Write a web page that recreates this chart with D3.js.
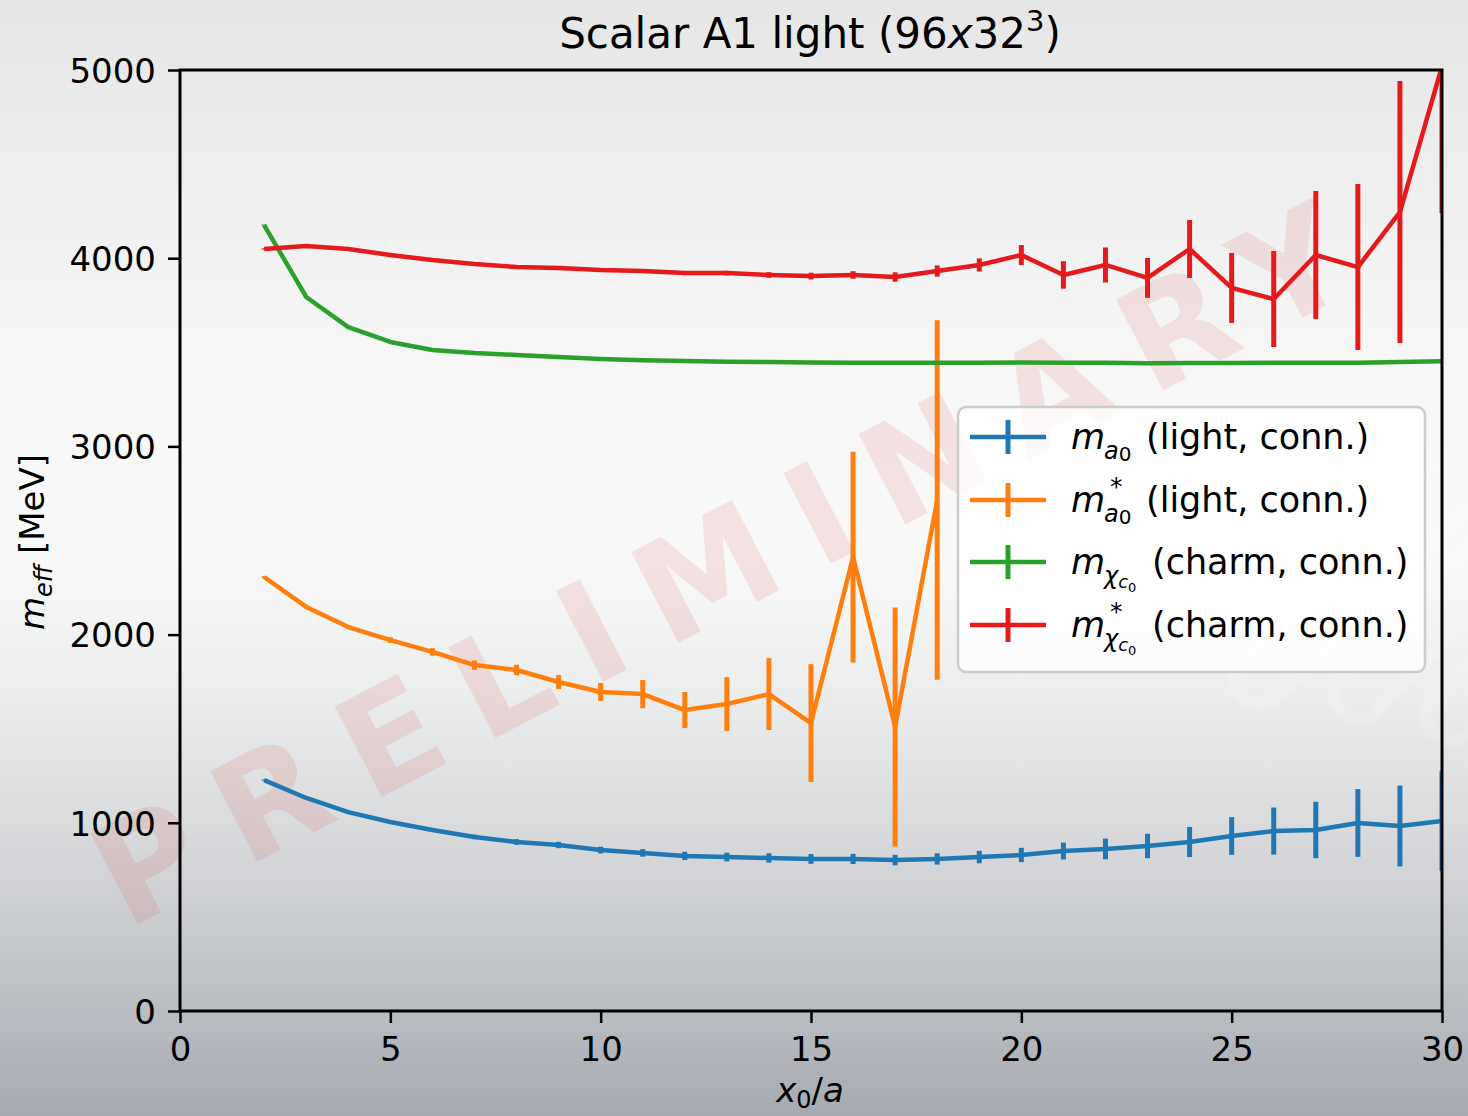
<!DOCTYPE html>
<html>
<head>
<meta charset="utf-8">
<script src="https://cdn.jsdelivr.net/npm/d3@7"></script>
<style>
  body { margin: 0; padding: 0; overflow: hidden; }
  text { font-family: "DejaVu Sans", sans-serif; }
</style>
</head>
<body>
<div id="chart"></div>
<script>
// x0/a time slices
var xSlices = d3.range(2, 31);
var xSlicesShort = d3.range(2, 19);

// m_a0 (light, conn.)
var ma0 = [1227, 1132, 1057, 1004, 962, 925, 898, 882, 855, 840, 824, 818, 813, 808, 808,
           802, 808, 818, 829, 850, 861, 877, 898, 930, 956, 962, 999, 983, 1009];
var ma0Err = [3, 4, 5, 6, 8, 12, 15, 17, 18, 20, 22, 23, 25, 26, 27,
              28, 30, 33, 38, 45, 55, 65, 80, 100, 125, 150, 180, 215, 265];

// m*_a0 (light, conn.)
var ma0Star = [2306, 2147, 2040, 1971, 1908, 1838, 1812, 1748, 1695, 1684, 1599, 1631, 1684,
               1530, 2412, 1509, 2715];
var ma0StarErr = [5, 8, 10, 15, 20, 25, 28, 37, 48, 75, 96, 143, 191, 313, 560, 635, 955];

// m_chi_c0 (charm, conn.)
var mChi = [4176, 3794, 3634, 3555, 3512, 3496, 3486, 3475, 3465, 3458, 3454, 3450, 3448, 3446, 3445,
            3444, 3444, 3445, 3446, 3445, 3444, 3442, 3443, 3443, 3444, 3445, 3445, 3448, 3452];
var mChiErr = [3, 3, 3, 3, 3, 3, 3, 3, 3, 3, 3, 3, 3, 3, 3,
               3, 3, 3, 3, 3, 3, 3, 3, 3, 3, 3, 3, 3, 3];

// m*_chi_c0 (charm, conn.)
var mChiStar = [4049, 4065, 4049, 4017, 3990, 3969, 3953, 3948, 3937, 3932, 3921, 3921, 3911, 3905, 3911,
                3900, 3932, 3964, 4017, 3911, 3964, 3895, 4049, 3842, 3783, 4017, 3953, 4245, 5020];
var mChiStarErr = [3, 3, 4, 4, 5, 6, 7, 8, 9, 10, 11, 12, 15, 18, 20,
                   25, 30, 35, 53, 73, 93, 106, 154, 186, 255, 340, 441, 696, 780];

var xTicks = [0, 5, 10, 15, 20, 25, 30];
var yTicks = [0, 1000, 2000, 3000, 4000, 5000];

var svgWidth = 1468;
var svgHeight = 1116;

var margins = { top: 70, right: 26, bottom: 105, left: 180 };
var width = svgWidth - margins.left - margins.right;
var height = svgHeight - margins.top - margins.bottom;

var svg = d3.select("#chart")
            .append("svg")
            .attr("width", svgWidth)
            .attr("height", svgHeight);

var defs = svg.append("defs");

// figure background gradient
var grad = defs.append("linearGradient")
    .attr("id", "bg")
    .attr("x1", 0).attr("y1", 0).attr("x2", 0).attr("y2", 1);
[[0, "#e6e6e6"], [0.33, "#f7f7f7"], [0.5, "#f9f9f9"], [0.62, "#eceded"],
 [0.8, "#cfd1d4"], [1, "#a6aab1"]].forEach(function(s) {
    grad.append("stop").attr("offset", s[0]).attr("stop-color", s[1]);
});

defs.append("clipPath").attr("id", "plotclip")
    .append("rect").attr("width", width).attr("height", height);

svg.append("rect")
   .attr("width", svgWidth)
   .attr("height", svgHeight)
   .attr("fill", "url(#bg)");

// faint diagonal logo stripes at the right
var logo = svg.append("g")
    .attr("transform", "translate(1500, 560) rotate(-45)")
    .attr("fill", "none")
    .attr("stroke", "#ffffff")
    .attr("stroke-opacity", 0.15)
    .attr("stroke-width", 12);
[[-280, -110, 520], [-220, -30, 480], [-170, 50, 440], [-120, 130, 400]].forEach(function(b) {
    logo.append("rect")
        .attr("x", b[0]).attr("y", b[1])
        .attr("width", b[2]).attr("height", 50)
        .attr("rx", 25);
});

// PRELIMINARY watermark
svg.append("text")
   .attr("transform", "translate(725, 575) rotate(-27.5)")
   .attr("text-anchor", "middle")
   .attr("dominant-baseline", "middle")
   .attr("textLength", 1390)
   .attr("lengthAdjust", "spacing")
   .style("font-size", "140px")
   .style("font-weight", "bold")
   .attr("fill", "rgb(215, 70, 70)")
   .attr("fill-opacity", 0.13)
   .text("PRELIMINARY");

var chartGroup = svg.append("g")
    .attr("transform", `translate(${margins.left}, ${margins.top})`);

var xScale = d3.scaleLinear().domain([0, 30]).range([0, width]);
var yScale = d3.scaleLinear().domain([0, 5000]).range([height, 0]);

// series
var series = [
    { x: xSlices, y: ma0, err: ma0Err, color: "#1f77b4" },
    { x: xSlicesShort, y: ma0Star, err: ma0StarErr, color: "#ff7f0e" },
    { x: xSlices, y: mChi, err: mChiErr, color: "#2ca02c" },
    { x: xSlices, y: mChiStar, err: mChiStarErr, color: "#e41a1c" }
];

var plot = chartGroup.append("g").attr("clip-path", "url(#plotclip)");

var line = d3.line()
    .x(d => xScale(d.x))
    .y(d => yScale(d.y));

series.forEach(function(s) {
    var pts = s.x.map((x, i) => ({ x: x, y: s.y[i], e: s.err[i] }));
    var g = plot.append("g");
    g.append("path")
     .datum(pts)
     .attr("d", line)
     .attr("fill", "none")
     .attr("stroke", s.color)
     .attr("stroke-width", 4.5)
     .attr("stroke-linejoin", "round");
    g.selectAll("line.err")
     .data(pts)
     .enter()
     .append("line")
     .attr("x1", d => xScale(d.x))
     .attr("x2", d => xScale(d.x))
     .attr("y1", d => yScale(d.y - d.e))
     .attr("y2", d => yScale(d.y + d.e))
     .attr("stroke", s.color)
     .attr("stroke-width", 5);
});

// axes
var bottomAxis = d3.axisBottom(xScale).tickValues(xTicks).tickSize(12).tickPadding(14);
var leftAxis = d3.axisLeft(yScale).tickValues(yTicks).tickFormat(d3.format("d"))
    .tickSize(12).tickPadding(12);

var xAxisG = chartGroup.append("g")
    .attr("transform", `translate(0, ${height})`)
    .call(bottomAxis);
var yAxisG = chartGroup.append("g").call(leftAxis);

[xAxisG, yAxisG].forEach(function(a) {
    a.select(".domain").remove();
    a.selectAll(".tick line").attr("stroke", "#000").attr("stroke-width", 2.5);
    a.selectAll(".tick text")
     .attr("fill", "#000")
     .style("font-size", "34px")
     .style("font-family", "DejaVu Sans, sans-serif");
});
yAxisG.selectAll(".tick text").attr("dy", "0.36em");

chartGroup.append("rect")
    .attr("width", width)
    .attr("height", height)
    .attr("fill", "none")
    .attr("stroke", "#000")
    .attr("stroke-width", 3);

// title
var title = svg.append("text")
    .attr("x", 810)
    .attr("y", 48)
    .attr("text-anchor", "middle")
    .style("font-size", "42px")
    .attr("fill", "#000");
title.append("tspan").text("Scalar A1 light (96");
title.append("tspan").style("font-style", "italic").text("x");
title.append("tspan").text("32");
title.append("tspan").attr("dy", -17).style("font-size", "29px").text("3");
title.append("tspan").attr("dy", 17).text(")");

// x axis label
var xLabel = svg.append("text")
    .attr("x", 810)
    .attr("y", 1102)
    .attr("text-anchor", "middle")
    .style("font-size", "34px")
    .attr("fill", "#000");
xLabel.append("tspan").style("font-style", "italic").text("x");
xLabel.append("tspan").attr("dy", 6).style("font-size", "24px").text("0");
xLabel.append("tspan").attr("dy", -6).text("/");
xLabel.append("tspan").style("font-style", "italic").text("a");

// y axis label
var yLabel = svg.append("text")
    .attr("transform", "translate(44, 542) rotate(-90)")
    .attr("text-anchor", "middle")
    .style("font-size", "34px")
    .attr("fill", "#000");
yLabel.append("tspan").style("font-style", "italic").text("m");
yLabel.append("tspan").attr("dy", 8).style("font-size", "24px").style("font-style", "italic").text("eff");
yLabel.append("tspan").attr("dy", -8).text(" [MeV]");

// legend
var legend = svg.append("g");
legend.append("rect")
    .attr("x", 958).attr("y", 407)
    .attr("width", 467).attr("height", 265)
    .attr("rx", 8)
    .attr("fill", "#ffffff")
    .attr("fill-opacity", 0.8)
    .attr("stroke", "#cccccc")
    .attr("stroke-width", 2.5);

var legendItems = [
    { color: "#1f77b4", star: false, sub: "a", label: "(light, conn.)" },
    { color: "#ff7f0e", star: true, sub: "a", label: "(light, conn.)" },
    { color: "#2ca02c", star: false, sub: "chi", label: "(charm, conn.)" },
    { color: "#e41a1c", star: true, sub: "chi", label: "(charm, conn.)" }
];
var legendY = [437, 500, 562, 625];

legendItems.forEach(function(item, i) {
    var cy = legendY[i];
    var g = legend.append("g");
    g.append("line")
     .attr("x1", 970).attr("x2", 1046)
     .attr("y1", cy).attr("y2", cy)
     .attr("stroke", item.color).attr("stroke-width", 4.5);
    g.append("line")
     .attr("x1", 1008).attr("x2", 1008)
     .attr("y1", cy - 17).attr("y2", cy + 17)
     .attr("stroke", item.color).attr("stroke-width", 5);

    var base = cy + 12;
    g.append("text")
     .attr("x", 1071).attr("y", base)
     .style("font-size", "35px").style("font-style", "italic")
     .text("m");
    if (item.star) {
        g.append("text")
         .attr("x", 1110).attr("y", base - 17)
         .style("font-size", "25px")
         .text("*");
    }
    var labelX;
    if (item.sub === "a") {
        var t = g.append("text").attr("x", 1104).attr("y", base + 10).style("font-size", "24px");
        t.append("tspan").style("font-style", "italic").text("a");
        t.append("tspan").attr("dy", 2).style("font-size", "20px").text("0");
        labelX = 1146;
    } else {
        var t2 = g.append("text").attr("x", 1104).attr("y", base + 10).style("font-size", "24px");
        t2.append("tspan").style("font-style", "italic").text("χ");
        t2.append("tspan").attr("dy", 4).style("font-size", "18px").style("font-style", "italic").text("c");
        t2.append("tspan").attr("dy", 4).style("font-size", "13px").text("0");
        labelX = 1152;
    }
    g.append("text")
     .attr("x", labelX).attr("y", base)
     .style("font-size", "35px")
     .text(item.label);
});
</script>
</body>
</html>
